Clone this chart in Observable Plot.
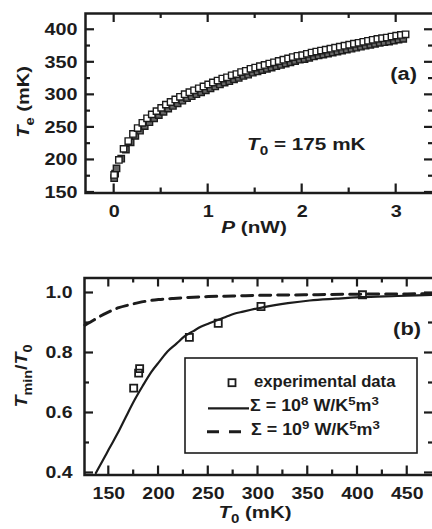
<!DOCTYPE html>
<html><head><meta charset="utf-8">
<script src="https://cdn.jsdelivr.net/npm/d3@7"></script>
<script src="https://cdn.jsdelivr.net/npm/@observablehq/plot@0.6"></script>
<style>
body{margin:0;background:#fff}
#chart{width:432px;height:529px;overflow:hidden;background:#fff}
#chart svg{display:block;overflow:hidden}
</style></head><body><div id="chart"></div>
<script>
const FONT = "'Liberation Sans', Arial, Helvetica, sans-serif";
const INK = "#1c1c1c";

// ---- panel (a): Te vs P at T0 = 175 mK ----
const powerUp = [0,0.05,0.1,0.15,0.2,0.25,0.3,0.35,0.4,0.45,0.5,0.55,0.6,0.65,0.7,0.75,0.8,0.85,0.9,0.95,1.0,1.05,1.1,1.15,1.2,1.25,1.3,1.35,1.4,1.45,1.5,1.55,1.6,1.65,1.7,1.75,1.8,1.85,1.9,1.95,2.0,2.05,2.1,2.15,2.2,2.25,2.3,2.35,2.4,2.45,2.5,2.55,2.6,2.65,2.7,2.75,2.8,2.85,2.9,2.95,3.0,3.05,3.1];
const teUp = [177,200,217,229,240,249,257,264,270,275,280,285,289,293,297,301,304,307,310,313,316,319,322,325,327,330,332,335,337,340,342,344,346,348,350,352,354,356,358,360,361,363,365,366.5,368,369.5,371,372.5,374,375.5,377,378.5,380,381.5,383,384.5,386,387,388,389.5,391,392,393];
const powerDown = [0,0.01,0.025,0.075,0.125,0.175,0.225,0.275,0.325,0.375,0.425,0.475,0.525,0.575,0.625,0.675,0.725,0.775,0.825,0.875,0.925,0.975,1.025,1.075,1.125,1.175,1.225,1.275,1.325,1.375,1.425,1.475,1.525,1.575,1.625,1.675,1.725,1.775,1.825,1.875,1.925,1.975,2.025,2.075,2.125,2.175,2.225,2.275,2.325,2.375,2.425,2.475,2.525,2.575,2.625,2.675,2.725,2.775,2.825,2.875,2.925,2.975,3.025,3.075];
const teDown = [172,179,187,202,216,227,237,245,252,258,264,269,274,279,283,287,291,295,298,301,304,307,310,313,316,319,321,324,326,329,331,334,336,338,340,342,344,346,348,350,352,354,355,357,359,360.5,362,363.5,365,366.5,368,369.5,371,372.5,374,375.5,377,378.5,380,381,382,383.5,385,386];
const aXMajor = [0,1,2,3];
const aXMinor = [0.5,1.5,2.5];
const aYMajor = [150,200,250,300,350,400];
const aYMinor = [175,225,275,325,375];

// ---- panel (b): Tmin/T0 vs T0 ----
const expT0 = [175,180,181,231,260,303,405];
const expRatio = [0.683,0.733,0.748,0.852,0.899,0.955,0.994];
const fit8T0 = [137,145,150,159,167,176,184,193,201,209,218,226,235,243,251,260,268,276,285,293,306,330,352,378,403,440,476];
const fit8Ratio = [0.400,0.448,0.479,0.533,0.586,0.644,0.690,0.738,0.772,0.805,0.831,0.855,0.873,0.888,0.899,0.911,0.921,0.931,0.938,0.944,0.953,0.966,0.975,0.981,0.986,0.990,0.994];
const fit9T0 = [126,135,140,150,160,170,180,190,200,215,230,250,275,300,350,400,450,476];
const fit9Ratio = [0.893,0.910,0.920,0.937,0.951,0.960,0.968,0.974,0.978,0.982,0.985,0.988,0.990,0.992,0.994,0.996,0.997,0.998];
const bXMajor = [150,200,250,300,350,400,450];
const bXMinor = [175,225,275,325,375,425];
const bYMajor = [0.4,0.6,0.8,1.0];
const bYMinor = [0.5,0.7,0.9];

const rowsUp = powerUp.map((p,i)=>({p, te: teUp[i]}));
const rowsDown = powerDown.map((p,i)=>({p, te: teDown[i]}));
const rowsExp = expT0.map((t,i)=>({t, r: expRatio[i]}));
const rowsFit8 = fit8T0.map((t,i)=>({t, r: fit8Ratio[i]}));
const rowsFit9 = fit9T0.map((t,i)=>({t, r: fit9Ratio[i]}));

// inward ticks on all four sides, placed with the plot's own x and y scales
function frameTicks(svg, P, xMajor, xMinor, yMajor, yMinor) {
  const sx = svg.scale("x"), sy = svg.scale("y");
  const L = P.ml, R = P.w - P.mr, T = P.mt, Bt = P.h - P.mb;
  const MAJ = 9, MIN = 5;
  const g = d3.select(svg).append("g").attr("aria-label", "frame ticks");
  const seg = (x1, y1, x2, y2) => g.append("line").attr("x1", x1).attr("y1", y1).attr("x2", x2).attr("y2", y2)
    .attr("stroke", INK).attr("stroke-width", 2.2);
  const vx = (vals, len) => vals.forEach(v => { const x = sx.apply(v); seg(x, Bt, x, Bt - len); seg(x, T, x, T + len); });
  const hy = (vals, len) => vals.forEach(v => { const y = sy.apply(v); seg(L, y, L + len, y); seg(R, y, R - len, y); });
  vx(xMajor, MAJ); vx(xMinor, MIN); hy(yMajor, MAJ); hy(yMinor, MIN);
}

function rich(svg, x, y, parts, {size=16, anchor="start", rotate=0, weight="bold", sx=1} = {}) {
  const g = d3.select(svg).append("g").attr("transform",
    `translate(${x},${y})` + (rotate ? ` rotate(${rotate})` : "") + (sx !== 1 ? ` scale(${sx},1)` : ""));
  const t = g.append("text").attr("text-anchor", anchor).attr("font-family", FONT)
    .attr("font-size", size).attr("font-weight", weight).attr("fill", INK);
  let shift = 0;
  for (const p of parts) {
    const target = p.sub ? size*0.32 : p.sup ? -size*0.4 : 0;
    const ts = t.append("tspan").text(p.t).attr("dy", target - shift);
    shift = target;
    if (p.sub || p.sup) ts.attr("font-size", size*0.74);
    if (p.it) ts.attr("font-style", "italic");
  }
  return t;
}

function widenTickLabels(svg, sx) {
  svg.querySelectorAll('g[aria-label$="tick label"] text').forEach(t => {
    t.setAttribute("transform", (t.getAttribute("transform") || "") + ` scale(${sx},1)`);
  });
}

const style = {fontFamily: FONT, fontSize: "16.5px", fontWeight: "bold", color: INK, background: "#fff"};

// panel (a)
const A = {w: 432, h: 260, mt: 13, mb: 67.5, ml: 85, mr: -1, xd: [-0.305, 3.397], yd: [149.2, 425]};
const plotA = Plot.plot({
  width: A.w, height: A.h, marginTop: A.mt, marginBottom: A.mb, marginLeft: A.ml, marginRight: A.mr,
  x: {domain: A.xd}, y: {domain: A.yd},
  style,
  marks: [
    Plot.dot(rowsDown, {x: "p", y: "te", symbol: "square", r: 3.6, stroke: INK, strokeWidth: 1.4, fill: "#666"}),
    Plot.dot(rowsUp, {x: "p", y: "te", symbol: "square", r: 3.6, stroke: INK, strokeWidth: 1.4, fill: "#fff"}),
    Plot.axisX(aXMajor, {tickSize: 0, tickPadding: 12, label: null, fontSize: 16.5}),
    Plot.axisY(aYMajor, {tickSize: 0, tickPadding: 8, label: null, fontSize: 16.5}),
    Plot.frame({stroke: INK, strokeWidth: 2.5})
  ]
});

// panel (b)
const B = {w: 432, h: 269, mt: 17.5, mb: 54.5, ml: 84, mr: -1, xd: [125.57, 476.4], yd: [0.3933, 1.05]};
const plotB = Plot.plot({
  width: B.w, height: B.h, marginTop: B.mt, marginBottom: B.mb, marginLeft: B.ml, marginRight: B.mr,
  x: {domain: B.xd}, y: {domain: B.yd},
  style,
  marks: [
    Plot.line(rowsFit9, {x: "t", y: "r", stroke: INK, strokeWidth: 3, strokeDasharray: "11,7", curve: "monotone-x"}),
    Plot.line(rowsFit8, {x: "t", y: "r", stroke: INK, strokeWidth: 2.2, curve: "monotone-x"}),
    Plot.dot(rowsExp, {x: "t", y: "r", symbol: "square", r: 4, stroke: INK, strokeWidth: 1.8, fill: "none"}),
    Plot.axisX(bXMajor, {tickSize: 0, tickPadding: 12, label: null, fontSize: 16.5}),
    Plot.axisY(bYMajor, {tickSize: 0, tickPadding: 12, label: null, fontSize: 16.5, tickFormat: d3.format(".1f")}),
    Plot.frame({stroke: INK, strokeWidth: 2.5})
  ]
});

widenTickLabels(plotA, 1.2);
widenTickLabels(plotB, 1.18);

const root = document.getElementById("chart");
root.append(plotA, plotB);

frameTicks(plotA, A, aXMajor, aXMinor, aYMajor, aYMinor);
frameTicks(plotB, B, bXMajor, bXMinor, bYMajor, bYMinor);

// annotations panel (a)
rich(plotA, 254, 233, [{t: "P", it: true}, {t: " (nW)"}], {size: 17, anchor: "middle", sx: 1.22});
rich(plotA, 29, 102, [{t: "T", it: true}, {t: "e", sub: true}, {t: " (mK)"}], {size: 17, anchor: "middle", rotate: -90, sx: 1.18});
rich(plotA, 247, 150, [{t: "T", it: true}, {t: "0", sub: true}, {t: " = 175 mK"}], {size: 17, sx: 1.22});
rich(plotA, 417, 80, [{t: "(a)"}], {size: 19, anchor: "end", sx: 1.15});

// annotations panel (b)
rich(plotB, 255, 258, [{t: "T", it: true}, {t: "0", sub: true}, {t: " (mK)"}], {size: 17, anchor: "middle", sx: 1.2});
rich(plotB, 27, 116, [{t: "T", it: true}, {t: "min", sub: true}, {t: "/"}, {t: "T", it: true}, {t: "0", sub: true}], {size: 17, anchor: "middle", rotate: -90, sx: 1.15});
rich(plotB, 421, 75, [{t: "(b)"}], {size: 19, anchor: "end", sx: 1.15});

// legend panel (b)
const lg = d3.select(plotB).append("g");
lg.append("rect").attr("x", 185).attr("y", 98).attr("width", 232).attr("height", 95)
  .attr("fill", "#fff").attr("stroke", INK).attr("stroke-width", 1.6);
lg.append("rect").attr("x", 228.5).attr("y", 119.2).attr("width", 7).attr("height", 7)
  .attr("fill", "none").attr("stroke", INK).attr("stroke-width", 1.8);
lg.append("line").attr("x1", 208).attr("x2", 249).attr("y1", 148.3).attr("y2", 148.3)
  .attr("stroke", INK).attr("stroke-width", 2.2);
lg.append("line").attr("x1", 207).attr("x2", 241).attr("y1", 171.7).attr("y2", 171.7)
  .attr("stroke", INK).attr("stroke-width", 3).attr("stroke-dasharray", "12,10");
rich(plotB, 254, 127, [{t: "experimental data"}], {size: 16, sx: 1.04});
rich(plotB, 250, 151, [{t: "Σ = 10"}, {t: "8", sup: true}, {t: " W/K"}, {t: "5", sup: true}, {t: "m"}, {t: "3", sup: true}], {size: 16, sx: 1.12});
rich(plotB, 251, 175, [{t: "Σ = 10"}, {t: "9", sup: true}, {t: " W/K"}, {t: "5", sup: true}, {t: "m"}, {t: "3", sup: true}], {size: 16, sx: 1.12});
</script></body></html>
